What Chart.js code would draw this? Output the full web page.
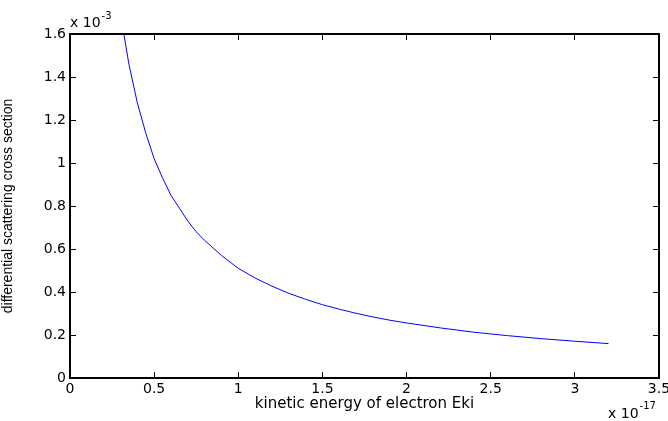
<!DOCTYPE html>
<html><head><meta charset="utf-8">
<script src="https://cdn.jsdelivr.net/npm/chart.js@4/dist/chart.umd.min.js"></script>
<style>html,body{margin:0;padding:0;background:#fff}#wrap{width:668px;height:421px}</style>
</head><body><div id="wrap"><canvas id="c" width="668" height="421"></canvas></div>
<script>
// energy in units of 1e-17
const energy = [0.32,0.35,0.4,0.45,0.5,0.55,0.6,0.65,0.7,0.75,0.8,0.9,1.0,1.1,1.2,1.3,1.4,1.5,1.6,1.7,1.8,1.9,2.0,2.2,2.4,2.6,2.8,3.0,3.2];
// cross section in units of 1e-3
const crossSection = [1.60,1.46,1.28,1.14,1.02,0.93,0.85,0.79,0.73,0.68,0.64,0.57,0.51,0.465,0.427,0.394,0.366,0.341,0.32,0.301,0.284,0.269,0.256,0.233,0.213,0.197,0.183,0.171,0.16];
const xTicks = [0,0.5,1,1.5,2,2.5,3,3.5];
const yTicks = [0,0.2,0.4,0.6,0.8,1,1.2,1.4,1.6];
const xTitle = 'kinetic energy of electron Eki';
const yTitle = 'differential scattering cross section';
const xExp = '-17', yExp = '-3';

const FONT = '"DejaVu Sans", Verdana, sans-serif';
const FONT2 = 'Arial, "Liberation Sans", Helvetica, sans-serif';

const boxPlugin = {
  id: 'box',
  afterDraw(chart) {
    const {ctx, chartArea: a} = chart;
    const l = Math.round(a.left), r = Math.round(a.right), t = Math.round(a.top), b = Math.round(a.bottom);
    ctx.save();
    ctx.fillStyle = '#000';
    ctx.fillRect(l - 1, t - 1, r - l + 2, 2);
    ctx.fillRect(l - 1, b - 1, r - l + 2, 2);
    ctx.fillRect(l - 1, t - 1, 2, b - t + 2);
    ctx.fillRect(r - 1, t - 1, 2, b - t + 2);
    ctx.textBaseline = 'alphabetic';
    ctx.textAlign = 'left';
    ctx.font = '14px ' + FONT;
    ctx.fillText('x 10', l, 27);
    let w = ctx.measureText('x 10').width;
    ctx.font = '10px ' + FONT;
    ctx.fillText(yExp, l + w + 1, 19);
    ctx.font = '14px ' + FONT;
    ctx.fillText('x 10', 608, 418);
    w = ctx.measureText('x 10').width;
    ctx.font = '10px ' + FONT;
    ctx.fillText(xExp, 608 + w + 1, 409);
    ctx.restore();
  }
};

const tickGrid = {display: true, drawOnChartArea: false, drawTicks: true, tickLength: -6, color: '#000', lineWidth: 1};

new Chart(document.getElementById('c'), {
  type: 'scatter',
  data: {
    datasets: [{
      data: energy.map((e, i) => ({x: e, y: crossSection[i]})),
      showLine: true,
      borderColor: '#0000ff',
      borderWidth: 1,
      pointRadius: 0,
      tension: 0,
      fill: false
    }]
  },
  options: {
    responsive: false,
    animation: false,
    events: [],
    layout: {padding: {top: 34, right: 9, left: 0, bottom: 0}},
    plugins: {legend: {display: false}, tooltip: {enabled: false}},
    scales: {
      x: {
        type: 'linear', position: 'bottom', min: 0, max: 3.5,
        afterBuildTicks(s) { s.ticks = xTicks.map(v => ({value: v})); },
        afterFit(s) { s.height = 43; s.paddingLeft = 0; s.paddingRight = 0; },
        grid: tickGrid,
        border: {display: false},
        ticks: {color: '#000', font: {family: FONT, size: 14}, padding: 9, maxRotation: 0,
          callback: v => String(v)},
        title: {display: true, text: xTitle, color: '#000', font: {family: FONT, size: 15}, padding: {top: 0, bottom: 8}}
      },
      x2: {
        type: 'linear', position: 'top', min: 0, max: 3.5,
        afterBuildTicks(s) { s.ticks = xTicks.map(v => ({value: v})); },
        afterFit(s) { s.height = 0; s.paddingLeft = 0; s.paddingRight = 0; },
        grid: tickGrid,
        border: {display: false},
        ticks: {display: false}
      },
      y: {
        type: 'linear', position: 'left', min: 0, max: 1.6,
        afterBuildTicks(s) { s.ticks = yTicks.map(v => ({value: v})); },
        afterFit(s) { s.width = 70; s.paddingTop = 0; s.paddingBottom = 0; },
        grid: tickGrid,
        border: {display: false},
        ticks: {color: '#000', font: {family: FONT, size: 14}, padding: 10,
          callback: v => String(v)},
        title: {display: true, text: yTitle, color: '#000', font: {family: FONT2, size: 14}, padding: {top: 0, bottom: 0}}
      },
      y2: {
        type: 'linear', position: 'right', min: 0, max: 1.6,
        afterBuildTicks(s) { s.ticks = yTicks.map(v => ({value: v})); },
        afterFit(s) { s.width = 0; s.paddingTop = 0; s.paddingBottom = 0; },
        grid: tickGrid,
        border: {display: false},
        ticks: {display: false}
      }
    }
  },
  plugins: [boxPlugin]
});
</script></body></html>
